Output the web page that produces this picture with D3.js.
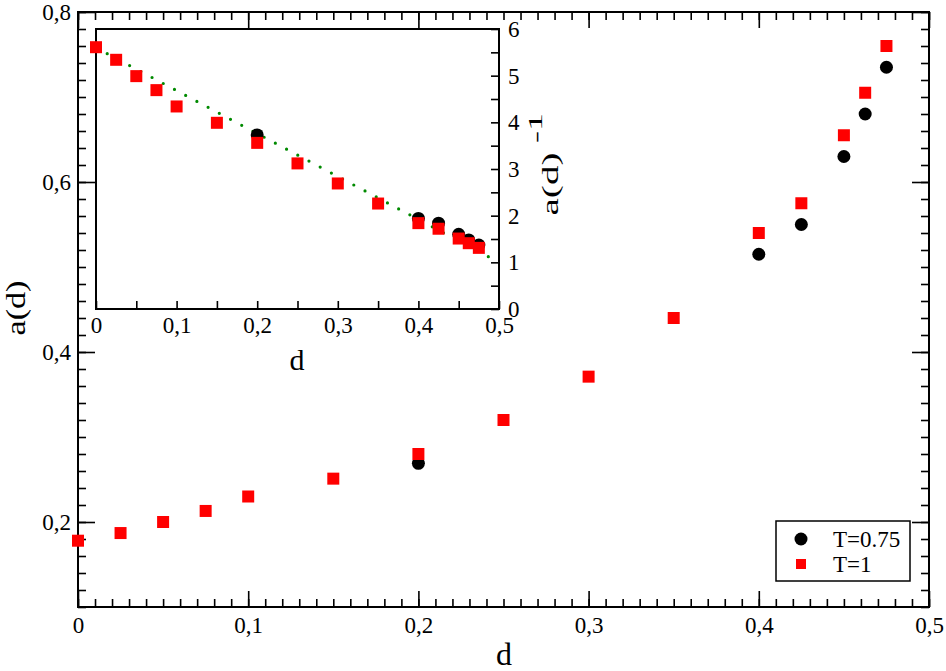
<!DOCTYPE html>
<html>
<head>
<meta charset="utf-8">
<script src="https://cdn.jsdelivr.net/npm/d3@7"></script>
<style>
  body { margin: 0; background: #fff; }
</style>
</head>
<body>
<script>
// data
var dValues  = [0, 0.025, 0.05, 0.075, 0.1, 0.15, 0.2, 0.25, 0.3, 0.35, 0.4, 0.425, 0.45, 0.4625, 0.475];
var aT1      = [0.178, 0.187, 0.200, 0.213, 0.230, 0.251, 0.280, 0.320, 0.371, 0.440, 0.540, 0.575, 0.655, 0.705, 0.760];
var dT075    = [0.2, 0.4, 0.425, 0.45, 0.4625, 0.475];
var aT075    = [0.269, 0.515, 0.550, 0.630, 0.680, 0.735];
// inset: a(d)^-1
var invT1    = [5.61, 5.34, 4.99, 4.69, 4.34, 3.99, 3.56, 3.12, 2.69, 2.26, 1.84, 1.72, 1.51, 1.41, 1.31];
var invT075  = [3.73, 1.94, 1.84, 1.60, 1.48, 1.37];
var fitD     = [0, 0.5];
var fitInv   = [5.6, 1.0];

var xLabels  = [0, 0.1, 0.2, 0.3, 0.4, 0.5];
var yLabels  = [0.2, 0.4, 0.6, 0.8];
var yiLabels = [0, 1, 2, 3, 4, 5, 6];
var legendNames = ['T=0.75', 'T=1'];

var width = 946, height = 671;
var serif = "Liberation Serif";

var svg = d3.select("body")
  .append("svg")
  .attr("width", width)
  .attr("height", height);

var x  = d3.scaleLinear().domain([0, 0.5]).range([78, 929]);
var y  = d3.scaleLinear().domain([0.1, 0.8]).range([607, 12]);
var xi = d3.scaleLinear().domain([0, 0.5]).range([96, 499]);
var yi = d3.scaleLinear().domain([0, 6]).range([309, 29]);

function comma(v) {
  if (v === 0) return "0";
  return d3.format(".1f")(v).replace(".", ",");
}

function styleAxis(g) {
  g.select(".domain").remove();
  g.attr("font-family", serif).attr("font-size", 23);
  g.selectAll("line").attr("stroke", "#000").attr("stroke-width", 1.6);
  g.selectAll("text").attr("fill", "#000");
}

var xMinor  = d3.range(0, 0.5001, 0.01).map(function(v) { return +v.toFixed(3); });
var yMinor  = d3.range(0.1, 0.8001, 0.02).map(function(v) { return +v.toFixed(3); });
var xiMinor = d3.range(0, 0.5001, 0.05).map(function(v) { return +v.toFixed(3); });
var yiMinor = d3.range(0, 6.001, 0.5);

// ---- main axes ----
svg.append("g").attr("transform", "translate(0,607)")
  .call(d3.axisBottom(x).tickValues(xMinor).tickSize(-8).tickFormat(""))
  .call(styleAxis);
svg.append("g").attr("transform", "translate(0,607)")
  .call(d3.axisBottom(x).tickValues(xLabels).tickSize(-16).tickPadding(10).tickFormat(comma))
  .call(styleAxis);
svg.append("g").attr("transform", "translate(0,12)")
  .call(d3.axisTop(x).tickValues(xMinor).tickSize(-8).tickFormat(""))
  .call(styleAxis);
svg.append("g").attr("transform", "translate(0,12)")
  .call(d3.axisTop(x).tickValues(xLabels).tickSize(-16).tickFormat(""))
  .call(styleAxis);

svg.append("g").attr("transform", "translate(78,0)")
  .call(d3.axisLeft(y).tickValues(yMinor).tickSize(-8).tickFormat(""))
  .call(styleAxis);
svg.append("g").attr("transform", "translate(78,0)")
  .call(d3.axisLeft(y).tickValues(yLabels).tickSize(-17).tickPadding(7).tickFormat(comma))
  .call(styleAxis);
svg.append("g").attr("transform", "translate(929,0)")
  .call(d3.axisRight(y).tickValues(yMinor).tickSize(-8).tickFormat(""))
  .call(styleAxis);
svg.append("g").attr("transform", "translate(929,0)")
  .call(d3.axisRight(y).tickValues(yLabels).tickSize(-17).tickFormat(""))
  .call(styleAxis);

svg.append("rect")
  .attr("x", 78).attr("y", 12).attr("width", 929 - 78).attr("height", 607 - 12)
  .attr("fill", "none").attr("stroke", "#000").attr("stroke-width", 2);

// ---- main data ----
svg.append("g").selectAll("circle")
  .data(dT075)
  .join("circle")
  .attr("cx", function(d) { return x(d); })
  .attr("cy", function(d, i) { return y(aT075[i]); })
  .attr("r", 6.5)
  .attr("fill", "#000");

svg.append("g").selectAll("rect")
  .data(dValues)
  .join("rect")
  .attr("x", function(d) { return x(d) - 6; })
  .attr("y", function(d, i) { return y(aT1[i]) - 6; })
  .attr("width", 12).attr("height", 12)
  .attr("fill", "#ff0000");

// ---- inset ----
svg.append("rect")
  .attr("x", 96).attr("y", 29).attr("width", 499 - 96).attr("height", 309 - 29)
  .attr("fill", "#fff");

svg.append("g").attr("transform", "translate(0,309)")
  .call(d3.axisBottom(xi).tickValues(xiMinor).tickSize(-8).tickFormat(""))
  .call(styleAxis);
svg.append("g").attr("transform", "translate(0,309)")
  .call(d3.axisBottom(xi).tickValues(xLabels).tickSize(0).tickPadding(8).tickFormat(comma))
  .call(styleAxis);
svg.append("g").attr("transform", "translate(499,0)")
  .call(d3.axisRight(yi).tickValues(yiMinor).tickSize(-8).tickFormat(""))
  .call(styleAxis);
svg.append("g").attr("transform", "translate(499,0)")
  .call(d3.axisRight(yi).tickValues(yiLabels).tickSize(0).tickPadding(9).tickFormat(d3.format("d")))
  .call(styleAxis);

svg.append("rect")
  .attr("x", 96).attr("y", 29).attr("width", 499 - 96).attr("height", 309 - 29)
  .attr("fill", "none").attr("stroke", "#000").attr("stroke-width", 2);

var fitLine = d3.line()
  .x(function(d) { return xi(d); })
  .y(function(d, i) { return yi(fitInv[i]); });

svg.append("path")
  .datum(fitD)
  .attr("d", fitLine)
  .attr("fill", "none")
  .attr("stroke", "#008a00")
  .attr("stroke-width", 3.2)
  .attr("stroke-linecap", "round")
  .attr("stroke-dasharray", "0 12.7");

svg.append("g").selectAll("circle")
  .data(dT075)
  .join("circle")
  .attr("cx", function(d) { return xi(d); })
  .attr("cy", function(d, i) { return yi(invT075[i]); })
  .attr("r", 6.5)
  .attr("fill", "#000");

svg.append("g").selectAll("rect")
  .data(dValues)
  .join("rect")
  .attr("x", function(d) { return xi(d) - 6; })
  .attr("y", function(d, i) { return yi(invT1[i]) - 6; })
  .attr("width", 12).attr("height", 12)
  .attr("fill", "#ff0000");

// ---- titles ----
function title(txt, size) {
  return svg.append("text")
    .attr("text-anchor", "middle")
    .attr("font-family", serif)
    .attr("font-size", size)
    .text(txt);
}

title("d", 32).attr("x", 504).attr("y", 665);

title("a(d)", 27)
  .attr("transform", "translate(25,308) rotate(-90)")
  .attr("textLength", 55)
  .attr("lengthAdjust", "spacingAndGlyphs");

title("d", 30).attr("x", 297).attr("y", 370);

title("a(d)", 24)
  .attr("transform", "translate(558,184) rotate(-90)")
  .attr("textLength", 63)
  .attr("lengthAdjust", "spacingAndGlyphs");

title("-1", 18)
  .attr("transform", "translate(542,128) rotate(-90)")
  .attr("textLength", 30)
  .attr("lengthAdjust", "spacingAndGlyphs");

// ---- legend ----
var legend = svg.append("g");
legend.append("rect")
  .attr("x", 776).attr("y", 521).attr("width", 134).attr("height", 60)
  .attr("fill", "#fff").attr("stroke", "#000").attr("stroke-width", 1.5);

legend.selectAll("text")
  .data(legendNames)
  .join("text")
  .attr("x", 833)
  .attr("y", function(d, i) { return 547 + i * 25; })
  .attr("font-family", serif)
  .attr("font-size", 23)
  .text(function(d) { return d; });

legend.append("circle")
  .attr("cx", 801).attr("cy", 539).attr("r", 6.5).attr("fill", "#000");
legend.append("rect")
  .attr("x", 796).attr("y", 559).attr("width", 10).attr("height", 10).attr("fill", "#ff0000");
</script>
</body>
</html>
